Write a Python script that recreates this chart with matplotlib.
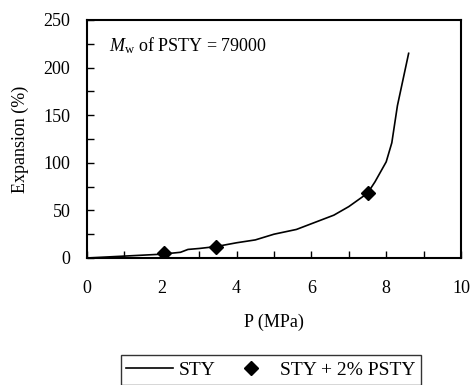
import matplotlib
matplotlib.use("Agg")
import matplotlib.pyplot as plt
from matplotlib.ticker import MultipleLocator

plt.rcParams['font.family'] = ['Liberation Serif', 'DejaVu Serif']
plt.rcParams['mathtext.fontset'] = 'custom'
plt.rcParams['mathtext.rm'] = 'Liberation Serif'
plt.rcParams['mathtext.it'] = 'Liberation Serif:italic'

# STY line data
sty_p = [0, 1.0, 2.0, 2.5, 2.7, 3.0, 3.45, 4.0, 4.5, 5.0, 5.6, 6.0, 6.6, 7.0, 7.5, 7.7, 8.0, 8.15, 8.3, 8.6]
sty_exp = [0, 2, 4, 6, 9, 10, 12, 16, 19, 25, 30, 36, 45, 54, 68, 80, 101, 121, 160, 215]

# STY + 2% PSTY markers
psty_p = [2.06, 3.45, 7.5]
psty_exp = [5, 12, 68]

fig = plt.figure(figsize=(4.71, 3.85), dpi=100)
ax = fig.add_axes([87/471, 1-258/385, (461-87)/471, (258-20)/385])

ax.plot(sty_p, sty_exp, color='black', lw=1.2, label='STY')
ax.plot(psty_p, psty_exp, ls='none', marker='D', ms=7, color='black', label='STY + 2% PSTY')

ax.set_xlim(0, 10)
ax.set_ylim(0, 250)
ax.xaxis.set_major_locator(MultipleLocator(2))
ax.xaxis.set_minor_locator(MultipleLocator(1))
ax.yaxis.set_major_locator(MultipleLocator(50))
ax.yaxis.set_minor_locator(MultipleLocator(25))
ax.tick_params(which='both', direction='in', labelsize=13)
ax.tick_params(which='major', length=5, width=1)
ax.tick_params(which='minor', length=5, width=1)
ax.tick_params(axis='x', which='major', pad=16)
ax.tick_params(axis='y', which='major', pad=12)
for s in ax.spines.values():
    s.set_linewidth(1.5)

ax.set_xlabel('P (MPa)', fontsize=13, labelpad=12)
ax.set_ylabel('Expansion (%)', fontsize=13, labelpad=10)

ax.text(0.06, 0.87, r'$M_{\mathrm{w}}$ of PSTY = 79000', transform=ax.transAxes, fontsize=13)

leg = fig.legend(loc='center', bbox_to_anchor=(271/471, 1-370/385), ncol=2, frameon=True,
                 fontsize=14, fancybox=False, edgecolor='black', handlelength=2.4,
                 handletextpad=0.3, columnspacing=0.6, borderpad=0.3, borderaxespad=0)
leg.get_frame().set_linewidth(1.0)

fig.savefig('out.png', dpi=100)
